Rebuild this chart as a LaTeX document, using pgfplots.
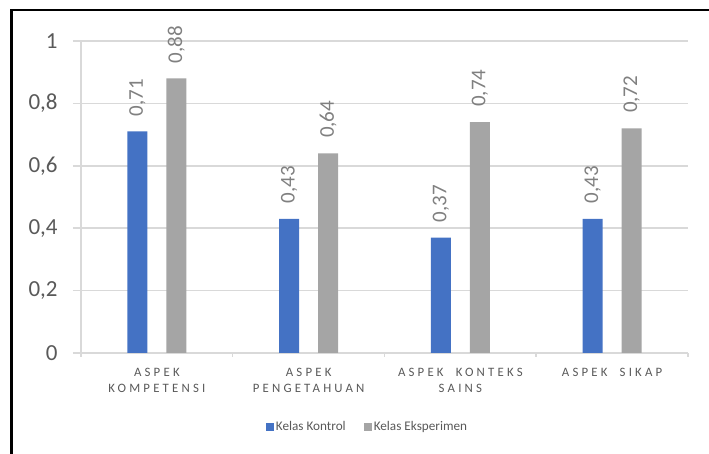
\documentclass[border=0pt]{standalone}
\usepackage{pgfplots}
\pgfplotsset{compat=1.18}
\usepackage{fontspec}
\setmainfont{Carlito}
\definecolor{cblue}{HTML}{4472C4}
\definecolor{cgray}{HTML}{A5A5A5}
\definecolor{gridc}{HTML}{D9D9D9}
\definecolor{txt}{HTML}{595959}
\definecolor{dlab}{HTML}{808080}
\begin{document}
\begin{tikzpicture}
\path[use as bounding box] (0,0) rectangle (354.5pt,227pt);
\draw[line width=1pt,black] (5.75pt,0) -- (5.75pt,221.75pt) -- (354.5pt,221.75pt);
\begin{axis}[
  at={(40.5pt,50.5pt)}, anchor=south west,
  scale only axis, width=303.5pt, height=156pt,
  xmin=-0.5, xmax=3.5, ymin=0, ymax=1,
  axis x line*=bottom, axis y line*=left,
  axis line style={gridc, line width=0.75pt, -},
  ybar, bar width=10pt,
  xtick={0,1,2,3},
  xticklabels={{ASPEK\\KOMPETENSI},{ASPEK\\PENGETAHUAN},{ASPEK\ \ KONTEKS\\SAINS},{ASPEK\ \ SIKAP}},
  minor xtick={-0.5,0.5,1.5,2.5,3.5},
  major x tick style={draw=none},
  minor x tick style={gridc, line width=0.75pt},
  minor tick length=2pt,
  tick align=outside,
  ytick={0,0.2,0.4,0.6,0.8,1},
  yticklabels={0,{0,2},{0,4},{0,6},{0,8},1},
  major tick length=4pt,
  y tick style={gridc, line width=0.75pt},
  ymajorgrids, grid style={gridc, line width=0.75pt},
  xticklabel style={font=\fontsize{6.4}{7.8}\selectfont\addfontfeature{LetterSpace=25}, align=center, text=txt, inner sep=0pt, yshift=-3.5pt},
  yticklabel style={font=\fontsize{11.5}{13}\selectfont, text=txt, inner sep=0pt, xshift=-7.5pt},
  /pgf/number format/.cd, use comma, fixed, fixed zerofill, precision=2, assume math mode=true,
  /pgfplots/.cd,
  nodes near coords,
  every node near coord/.append style={rotate=90, anchor=west, inner xsep=7.5pt, inner ysep=0pt, font=\fontsize{10.5}{12}\selectfont, text=dlab},
  legend columns=2,
  legend style={at={(axis description cs:0.472,-0.237)}, anchor=center, draw=none, fill=none,
    font=\fontsize{6.6}{8}\selectfont, text=txt,
    /tikz/every even column/.append style={column sep=8.5pt},
    nodes={inner sep=0.75pt}},
  legend cell align=left,
  legend image code/.code={\fill[#1] (0pt,-2pt) rectangle (4pt,2pt);},
]
\addplot[fill=cblue, draw=none, bar shift=-9.75pt] coordinates {(0,0.71) (1,0.43) (2,0.37) (3,0.43)};
\addplot[fill=cgray, draw=none, bar shift=9.75pt] coordinates {(0,0.88) (1,0.64) (2,0.74) (3,0.72)};
\legend{Kelas Kontrol, Kelas Eksperimen}
\end{axis}
\end{tikzpicture}
\end{document}
